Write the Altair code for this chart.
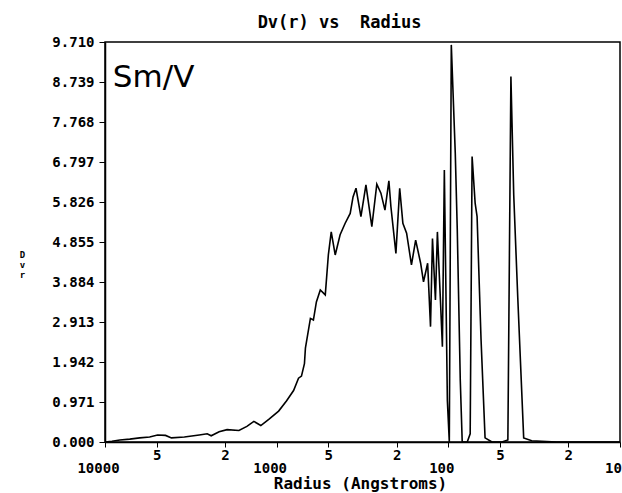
import altair as alt
import pandas as pd

# Volume distribution Dv(r) against pore radius (Angstroms)
radius = [
    10000, 9110, 8190, 7170, 6277, 5495, 4940, 4440, 4100, 3449,
    2825, 2539, 2407, 2164, 1945, 1659, 1491, 1358, 1237, 1112,
    974, 875, 797, 746, 717, 689, 680, 636, 611, 587,
    557, 521, 500, 481, 456, 427, 399, 373, 359, 345,
    323, 302, 279, 261, 247, 234, 222, 216, 202, 192,
    184, 175, 164, 155, 145, 139.5, 132, 127, 123.7, 118.9,
    115.8, 111.2, 108.3, 105.5, 101.3, 98.7, 96.1, 91.1, 88.7, 85.2,
    83.0, 77.6, 74.6, 72.7, 69.8, 68.0, 64.5, 61.1, 55.7, 48.7,
    45.0, 43.2, 41.6, 39.4, 36.4, 32.7, 23.4, 18.0, 10,
]
dv = [
    0.00, 0.02, 0.05, 0.07, 0.10, 0.12, 0.17, 0.16, 0.10, 0.12,
    0.17, 0.20, 0.15, 0.25, 0.30, 0.28, 0.38, 0.50, 0.40, 0.55,
    0.75, 1.00, 1.25, 1.55, 1.60, 1.90, 2.28, 3.00, 2.96, 3.40,
    3.69, 3.57, 4.54, 5.10, 4.54, 5.03, 5.31, 5.55, 5.95, 6.16,
    5.47, 6.24, 5.23, 6.26, 6.04, 5.63, 6.34, 5.71, 4.58, 6.16,
    5.31, 5.07, 4.30, 4.90, 4.34, 3.89, 4.34, 2.80, 4.94, 3.45,
    5.10, 3.45, 2.31, 6.60, 1.00, 0.00, 9.64, 7.00, 5.15, 1.50,
    0.00, 0.00, 0.20, 6.93, 5.80, 5.47, 2.50, 0.10, 0.00, 0.00,
    0.05, 8.87, 6.00, 3.50, 0.10, 0.03, 0.00, 0.00, 0.00,
]

y_ticks = [0.0, 0.971, 1.942, 2.913, 3.884, 4.855, 5.826, 6.797, 7.768, 8.739, 9.710]
decade_ticks = [10000, 1000, 100, 10]
minor_ticks = [5000, 2000, 500, 200, 50, 20]
minor_labels = ["5", "2", "5", "2", "5", "2"]

FONT = "DejaVu Sans Mono"
NBSP = "\u00a0"

# decade labels sit on a second line below the 5 / 2 sub-labels
expr = "''"
for v in decade_ticks:
    expr = f"datum.value == {v} ? ['', '{v}'] : ({expr})"
for v, lab in zip(minor_ticks, minor_labels):
    expr = f"datum.value == {v} ? '{lab}' : ({expr})"
is_decade = " || ".join(f"datum.value == {v}" for v in decade_ticks)

df = pd.DataFrame({"r": radius, "dv": dv})

x_scale = alt.Scale(type="log", domain=[10, 10000], reverse=True, nice=False)
y_scale = alt.Scale(domain=[0, 9.71], nice=False, zero=False)

line = alt.Chart(df).mark_line(color="black", strokeWidth=1.6, clip=True).encode(
    x=alt.X(
        "r:Q",
        scale=x_scale,
        axis=alt.Axis(
            values=sorted(decade_ticks + minor_ticks),
            tickCount=30,
            labelExpr=expr,
            labelOffset={"condition": {"test": is_decade, "value": -7}, "value": 0},
            title="Radius (Angstroms)",
            titleFont=FONT,
            titleFontSize=16,
            titleFontWeight="bold",
            titleX=255,
            titleY=41,
            titleBaseline="middle",
            titleAlign="center",
            labelFont=FONT,
            labelFontSize=14,
            labelFontWeight="bold",
            labelLineHeight=13,
            labelPadding=1,
            labelOverlap=False,
            labelFlush=False,
            labelBound=False,
            tickSize=5,
            tickColor="black",
            domainColor="black",
            domainWidth=1.5,
            labelColor="black",
            titleColor="black",
            grid=False,
        ),
    ),
    y=alt.Y(
        "dv:Q",
        scale=y_scale,
        axis=alt.Axis(
            values=y_ticks,
            tickCount=30,
            format=".3f",
            title=["D", "v", "r"],
            titleAngle=0,
            titleFont=FONT,
            titleFontSize=9,
            titleFontWeight="bold",
            titleLineHeight=10,
            titleX=-83,
            titleY=208,
            titleAlign="center",
            titleBaseline="top",
            labelFont=FONT,
            labelFontSize=14,
            labelFontWeight="bold",
            labelPadding=5,
            labelOverlap=False,
            labelFlush=False,
            tickSize=6,
            tickColor="black",
            domainColor="black",
            domainWidth=1.5,
            labelColor="black",
            titleColor="black",
            grid=False,
        ),
    ),
)

note = alt.Chart(pd.DataFrame({"r": [9000], "dv": [8.84], "t": ["Sm/V"]})).mark_text(
    align="left", baseline="middle", font="DejaVu Sans", fontSize=31, color="black"
).encode(x=alt.X("r:Q", scale=x_scale), y=alt.Y("dv:Q", scale=y_scale), text="t:N")

chart = (
    alt.layer(line, note)
    .properties(
        width=515,
        height=400,
        autosize=alt.AutoSizeParams(type="none"),
        padding={"left": 105, "top": 42, "right": 2, "bottom": 51},
        title=alt.TitleParams(
            f"Dv(r) vs{NBSP}{NBSP}Radius",
            font=FONT,
            fontSize=17,
            fontWeight="bold",
            color="black",
            anchor="middle",
            dx=-23,
            dy=26,
            offset=12,
            baseline="bottom",
        ),
        background="white",
    )
    .configure_view(stroke="black", strokeWidth=1.5)
)

chart.save("out.html", embed_options={"renderer": "svg", "actions": False})
